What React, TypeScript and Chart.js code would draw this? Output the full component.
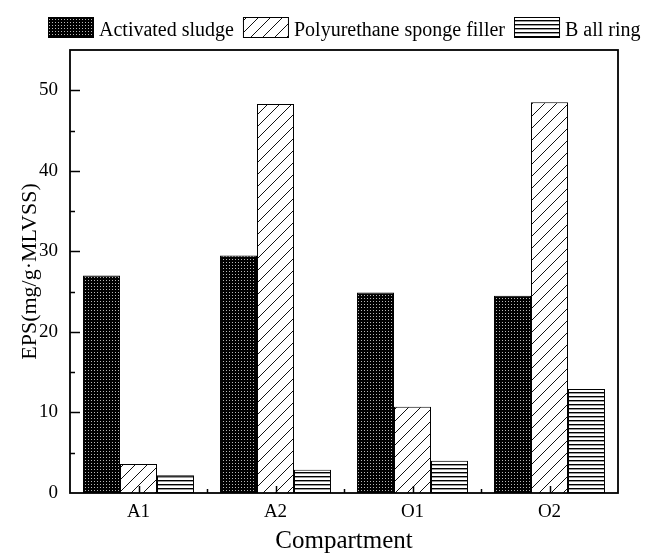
import { useEffect, useRef } from 'react';
import { Chart, registerables } from 'chart.js';

Chart.register(...registerables);

const categories = ['A1', 'A2', 'O1', 'O2'];
const activatedSludge = [27.0, 29.5, 24.9, 24.5];
const polyurethaneSponge = [3.6, 48.3, 10.7, 48.5];
const ballRing = [2.2, 2.9, 4.0, 12.9];
const seriesNames = ['Activated sludge', 'Polyurethane sponge filler', 'B all ring'];
const yMin = 0;
const yMax = 55;
const yStep = 5;
const yLabelStep = 10;
const xTitle = 'Compartment';
const yTitle = 'EPS(mg/g·MLVSS)';

const FONT = "'Liberation Serif', 'Times New Roman', serif";

function makeTile(w: number, h: number, draw: (c: CanvasRenderingContext2D) => void) {
  const cv = document.createElement('canvas');
  cv.width = w;
  cv.height = h;
  const c = cv.getContext('2d')!;
  draw(c);
  return c.createPattern(cv, 'repeat')!;
}

function dotPattern() {
  return makeTile(3, 3, (c) => {
    c.fillStyle = '#000';
    c.fillRect(0, 0, 3, 3);
    c.fillStyle = '#b8b8b8';
    c.fillRect(1, 1, 1, 1);
  });
}

function diagPattern() {
  const s = 12;
  return makeTile(s, s, (c) => {
    c.fillStyle = '#fff';
    c.fillRect(0, 0, s, s);
    c.strokeStyle = '#111';
    c.lineWidth = 1;
    c.beginPath();
    c.moveTo(0, s);
    c.lineTo(s, 0);
    c.moveTo(-2, 2);
    c.lineTo(2, -2);
    c.moveTo(s - 2, s + 2);
    c.lineTo(s + 2, s - 2);
    c.stroke();
  });
}

function hPattern() {
  return makeTile(4, 4, (c) => {
    c.fillStyle = '#fff';
    c.fillRect(0, 0, 4, 4);
    c.fillStyle = '#000';
    c.fillRect(0, 0, 4, 1);
    c.fillStyle = '#999';
    c.fillRect(0, 1, 4, 1);
  });
}

const framePlugin = {
  id: 'frame',
  afterDatasetsDraw(chart: any) {
    const { ctx, chartArea: a, scales } = chart;
    const y = scales.y;
    const x = scales.x;
    ctx.save();
    ctx.strokeStyle = '#000';
    ctx.lineWidth = 1.5;
    const line = (x1: number, y1: number, x2: number, y2: number) => {
      ctx.beginPath();
      ctx.moveTo(x1, y1);
      ctx.lineTo(x2, y2);
      ctx.stroke();
    };
    y.ticks.forEach((t: any) => {
      if (t.value <= yMin || t.value >= yMax) return;
      const py = Math.round(y.getPixelForValue(t.value)) + 0.5;
      const len = t.value % yLabelStep === 0 ? 10 : 5;
      line(a.left, py, a.left + len, py);
    });
    categories.forEach((_c, i) => {
      const px = Math.round(x.getPixelForValue(i)) + 0.5;
      line(px, a.bottom, px, a.bottom - 7);
      if (i < categories.length - 1) {
        const b = Math.round((x.getPixelForValue(i) + x.getPixelForValue(i + 1)) / 2) + 0.5;
        line(b, a.bottom, b, a.bottom - 4);
      }
    });
    ctx.lineWidth = 1.8;
    ctx.strokeRect(a.left, a.top, a.right - a.left, a.bottom - a.top);
    ctx.restore();
  },
  afterDraw(chart: any) {
    const { ctx } = chart;
    ctx.save();
    ctx.font = `20px ${FONT}`;
    ctx.textBaseline = 'alphabetic';
    ctx.textAlign = 'left';
    let cx = 48;
    const boxW = 46;
    const boxTop = 17;
    const boxH = 21;
    chart.data.datasets.forEach((ds: any) => {
      ctx.fillStyle = ds.backgroundColor;
      ctx.fillRect(cx, boxTop, boxW, boxH);
      ctx.strokeStyle = '#000';
      ctx.lineWidth = 1;
      ctx.strokeRect(cx + 0.5, boxTop + 0.5, boxW - 1, boxH - 1);
      const tx = cx + boxW + 5;
      ctx.fillStyle = '#000';
      ctx.fillText(ds.label, tx, 36);
      cx = tx + ctx.measureText(ds.label).width + 9;
    });
    ctx.restore();
  },
};

export default function App() {
  const ref = useRef<HTMLCanvasElement | null>(null);
  useEffect(() => {
    if (!ref.current) return;
    const chart = new Chart(ref.current, {
      type: 'bar',
      data: {
        labels: categories,
        datasets: [
          { label: seriesNames[0], data: activatedSludge, backgroundColor: dotPattern() as any, borderColor: '#000', borderWidth: 1 },
          { label: seriesNames[1], data: polyurethaneSponge, backgroundColor: diagPattern() as any, borderColor: '#000', borderWidth: 1 },
          { label: seriesNames[2], data: ballRing, backgroundColor: hPattern() as any, borderColor: '#000', borderWidth: 1 },
        ],
      },
      options: {
        animation: false,
        responsive: true,
        maintainAspectRatio: false,
        layout: { padding: { top: 50, right: 31, bottom: 0, left: 0 } },
        plugins: { legend: { display: false }, tooltip: { enabled: false } },
        datasets: { bar: { barPercentage: 1, categoryPercentage: 0.81 } },
        scales: {
          x: {
            grid: { display: false, drawTicks: false },
            border: { display: false },
            ticks: { color: '#000', font: { family: FONT, size: 19 }, padding: 8 },
            title: { display: true, text: xTitle, color: '#000', font: { family: FONT, size: 25 }, padding: { top: 0, bottom: 0 } },
            afterFit: (s: any) => {
              s.height = 63;
              s.paddingLeft = 0;
              s.paddingRight = 0;
            },
          },
          y: {
            min: yMin,
            max: yMax,
            grid: { display: false, drawTicks: false },
            border: { display: false },
            ticks: {
              stepSize: yStep,
              color: '#000',
              font: { family: FONT, size: 19 },
              padding: 12,
              callback: (v: any) => (Number(v) % yLabelStep === 0 ? String(v) : ''),
            },
            title: { display: true, text: yTitle, color: '#000', font: { family: FONT, size: 22 }, padding: { top: 17, bottom: 0 } },
            afterFit: (s: any) => {
              s.width = 70;
              s.paddingTop = 0;
              s.paddingBottom = 0;
            },
          },
        },
      },
      plugins: [framePlugin],
    });
    return () => chart.destroy();
  }, []);
  return (
    <div style={{ position: 'absolute', left: 0, top: 0, width: 649, height: 556, background: '#fff' }}>
      <canvas ref={ref} />
    </div>
  );
}
